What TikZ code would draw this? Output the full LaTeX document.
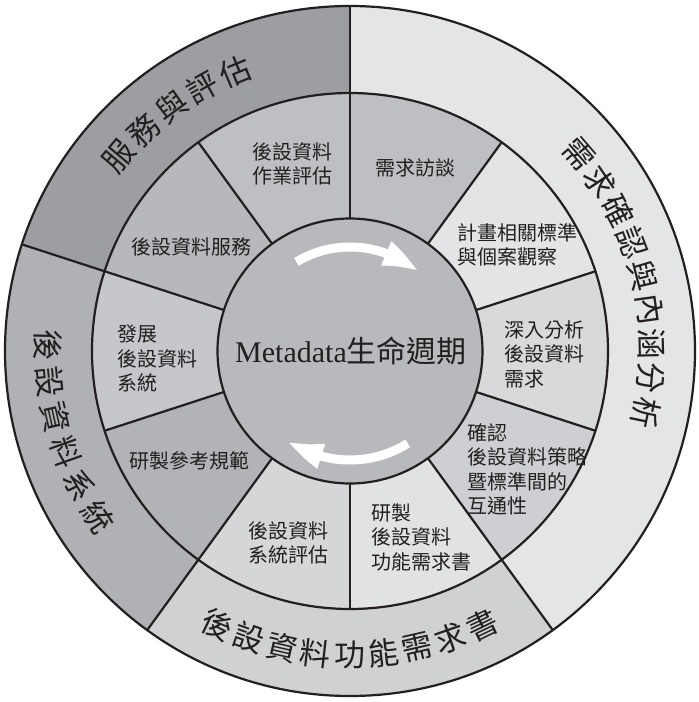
\documentclass[tikz,border=0pt]{standalone}
\usepackage{fontspec}
\setmainfont{Liberation Serif}
\newfontfamily\cjk{Noto Sans CJK TC}
\usetikzlibrary{arrows.meta,bending}
\definecolor{ink}{HTML}{231F20}
\definecolor{oServ}{HTML}{9D9EA2}
\definecolor{oSys}{HTML}{B0B1B5}
\definecolor{oFunc}{HTML}{D0D1D3}
\definecolor{oReq}{HTML}{E4E5E7}
\definecolor{mA}{HTML}{BEBFC2}
\definecolor{mB}{HTML}{E3E4E6}
\definecolor{mC}{HTML}{D8D9DB}
\definecolor{mD}{HTML}{CECFD2}
\definecolor{mE}{HTML}{E1E2E4}
\definecolor{mF}{HTML}{D5D6D8}
\definecolor{mG}{HTML}{B2B3B7}
\definecolor{mH}{HTML}{C6C7CA}
\definecolor{mI}{HTML}{B7B8BC}
\definecolor{mJ}{HTML}{BEBFC3}
\definecolor{core}{HTML}{B8B9BD}
\newcommand\annsec[5]{\fill[#5] (#1:#3) arc[start angle=#1,end angle=#2,radius=#3] -- (#2:#4) arc[start angle=#2,end angle=#1,radius=#4] -- cycle;}
\tikzset{
  lbl/.style={inner sep=0pt, text=ink, font=\cjk\fontsize{20}{24.5}\selectfont, align=left},
  outertext/.style={inner sep=0pt, text=ink, font=\cjk\fontsize{31}{31}\selectfont},
  divline/.style={draw=ink, line width=2.2pt},
  cyc/.style={draw=white, line width=9pt, -{Triangle[length=38pt,width=23pt,bend]}}
}
\begin{document}
\begin{tikzpicture}
\useasboundingbox (-350pt,-351pt) rectangle (349pt,351pt);
\fill[white] (-350pt,-351pt) rectangle (349pt,351pt);
% outer ring sectors
\annsec{90}{162}{258pt}{345pt}{oServ}
\annsec{162}{234}{258pt}{345pt}{oSys}
\annsec{234}{306}{258pt}{345pt}{oFunc}
\annsec{306}{450}{258pt}{345pt}{oReq}
% middle ring sectors
\annsec{54}{90}{132.5pt}{258pt}{mA}
\annsec{18}{54}{132.5pt}{258pt}{mB}
\annsec{-18}{18}{132.5pt}{258pt}{mC}
\annsec{-54}{-18}{132.5pt}{258pt}{mD}
\annsec{-90}{-54}{132.5pt}{258pt}{mE}
\annsec{-126}{-90}{132.5pt}{258pt}{mF}
\annsec{-162}{-126}{132.5pt}{258pt}{mG}
\annsec{162}{198}{132.5pt}{258pt}{mH}
\annsec{126}{162}{132.5pt}{258pt}{mI}
\annsec{90}{126}{132.5pt}{258pt}{mJ}
% core
\fill[core] (0,0) circle[radius=132.5pt];
% circles
\draw[divline] (0,0) circle[radius=345pt];
\draw[divline] (0,0) circle[radius=258pt];
\draw[divline] (0,0) circle[radius=132.5pt];
% radial lines
\foreach \a in {90,54,18,-18,-54,-90,-126,-162,162,126}
  \draw[divline] (\a:132.5pt) -- (\a:258pt);
\foreach \a in {90,162,234,306}
  \draw[divline] (\a:258pt) -- (\a:345pt);
% cycle arrows
\draw[cyc] (121:104pt) arc[start angle=121,end angle=49,radius=104pt];
\draw[cyc] (-58:109pt) arc[start angle=-58,end angle=-125,radius=109pt];
% centre label
\node[inner sep=0pt, text=ink] (core) at (1pt,0pt) {\fontsize{30}{30}\selectfont Metadata{\cjk 生命週期}};
% middle ring labels
\node[lbl] (s1) at (66pt,183pt) {需求訪談};
\node[lbl, anchor=north west] (s2) at (107pt,128pt) {計畫相關標準\\與個案觀察};
\node[lbl, anchor=north west] (s3) at (154pt,31pt) {深入分析\\後設資料\\需求};
\node[lbl, anchor=north west] (s4) at (117pt,-72pt) {確認\\後設資料策略\\暨標準間的\\互通性};
\node[lbl, anchor=north west] (s5) at (21pt,-152pt) {研製\\後設資料\\功能需求書};
\node[lbl, anchor=north west] (s6) at (-102pt,-170pt) {後設資料\\系統評估};
\node[lbl] (s7) at (-160pt,-110pt) {研製參考規範};
\node[lbl, anchor=north west] (s8) at (-233pt,26pt) {發展\\後設資料\\系統};
\node[lbl] (s9) at (-158pt,104pt) {後設資料服務};
\node[lbl, anchor=north west] (s10) at (-98pt,209pt) {後設資料\\作業評估};
% outer ring labels
\foreach \c [count=\i from 0] in {服,務,與,評,估}
  \node[outertext, rotate={140.0-\i*6.9-90}] (pa\i) at ({140.0-\i*6.9}:302pt) {\c};
\foreach \c [count=\i from 0] in {需,求,確,認,與,內,涵,分,析}
  \node[outertext, rotate={40.7-\i*6.56-90}] (pb\i) at ({40.7-\i*6.56}:302pt) {\c};
\foreach \c [count=\i from 0] in {後,設,資,料,系,統}
  \node[outertext, rotate={178.9+\i*6.88+90}] (pc\i) at ({178.9+\i*6.88}:302pt) {\c};
\foreach \c [count=\i from 0] in {後,設,資,料,功,能,需,求,書}
  \node[outertext, rotate={244.2+\i*6.44+90}] (pd\i) at ({244.2+\i*6.44}:304pt) {\c};
\end{tikzpicture}
\end{document}
